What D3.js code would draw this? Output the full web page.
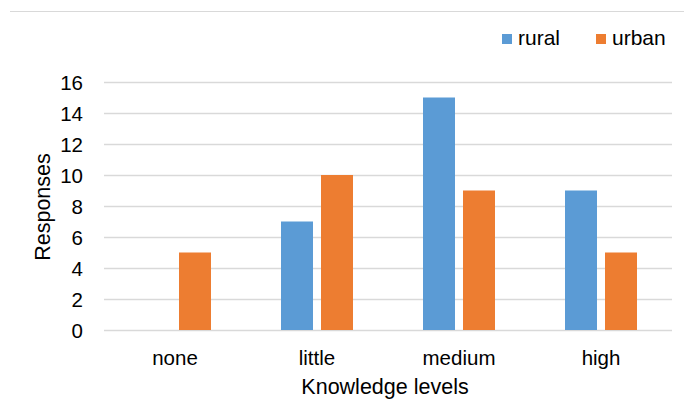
<!DOCTYPE html>
<html>
<head>
<meta charset="utf-8">
<script src="https://cdn.jsdelivr.net/npm/d3@7"></script>
<style>
  html, body { margin: 0; padding: 0; background: #fff; }
  svg { display: block; font-family: "Liberation Sans", Arial, sans-serif; }
</style>
</head>
<body>
<svg id="chart" width="684" height="409"></svg>
<script>
// Knowledge level responses, rural vs urban
const categories = ["none", "little", "medium", "high"];
const seriesNames = ["rural", "urban"];
const rural = [0, 7, 15, 9];
const urban = [5, 10, 9, 5];
const yTicks = [0, 2, 4, 6, 8, 10, 12, 14, 16];
const colors = ["#5B9BD5", "#ED7D31"];

const svg = d3.select("#chart");
const margin = { left: 104, right: 12, top: 82, bottom: 79 };
const W = 684, H = 409;
const FONT = "'Liberation Sans', Arial, sans-serif";

// frame line at top
svg.append("line")
  .attr("x1", 10).attr("x2", W).attr("y1", 11.5).attr("y2", 11.5)
  .attr("stroke", "#d9d9d9").attr("stroke-width", 1);

const x0 = d3.scaleBand().domain(categories)
  .range([margin.left, W - margin.right]).paddingInner(0).paddingOuter(0);
const x1 = d3.scaleBand().domain(seriesNames)
  .range([x0.bandwidth() / 2 - 36, x0.bandwidth() / 2 + 36])
  .paddingInner(0.2).paddingOuter(0);
const y = d3.scaleLinear().domain([0, 16]).range([H - margin.bottom, margin.top]);

// gridlines
svg.append("g")
  .selectAll("line").data(yTicks).join("line")
  .attr("x1", margin.left).attr("x2", W - margin.right)
  .attr("y1", d => Math.round(y(d)) + 0.5).attr("y2", d => Math.round(y(d)) + 0.5)
  .attr("stroke", "#d9d9d9").attr("stroke-width", 1.3);

// y axis labels
const yAxis = d3.axisLeft(y).tickValues(yTicks).tickSize(0).tickPadding(0);
const gy = svg.append("g").attr("transform", `translate(${margin.left - 21},0)`).call(yAxis);
gy.select(".domain").remove();
gy.selectAll("text").attr("font-size", 20.5).attr("fill", "#000")
  .attr("dy", "0.36em").style("font-family", FONT);

// x axis labels
const xAxis = d3.axisBottom(x0).tickSize(0).tickPadding(0);
const gx = svg.append("g").attr("transform", `translate(0,${H - margin.bottom + 20})`).call(xAxis);
gx.select(".domain").remove();
gx.selectAll("text").attr("font-size", 20.5).attr("fill", "#000")
  .style("font-family", FONT);

// bars
const rows = categories.map((c, i) => ({ cat: c, values: [rural[i], urban[i]] }));
svg.append("g").selectAll("g").data(rows).join("g")
  .attr("transform", d => `translate(${x0(d.cat)},0)`)
  .selectAll("rect")
  .data(d => d.values.map((v, j) => ({ name: seriesNames[j], value: v, j })))
  .join("rect")
  .attr("x", d => x1(d.name))
  .attr("width", x1.bandwidth())
  .attr("y", d => y(d.value))
  .attr("height", d => y(0) - y(d.value))
  .attr("fill", d => colors[d.j]);

// axis titles
svg.append("text")
  .attr("x", 385).attr("y", 394)
  .attr("text-anchor", "middle").attr("font-size", 21.5).text("Knowledge levels");
svg.append("text")
  .attr("transform", "translate(50,207) rotate(-90)")
  .attr("text-anchor", "middle").attr("font-size", 21.5).text("Responses");

// legend
const legendX = [502, 596];
const lg = svg.append("g").selectAll("g").data(seriesNames).join("g")
  .attr("transform", (d, i) => `translate(${legendX[i]},34)`);
lg.append("rect").attr("width", 10).attr("height", 10)
  .attr("fill", (d, i) => colors[i]);
lg.append("text").attr("x", 16).attr("y", 11).attr("font-size", 21).text(d => d);
</script>
</body>
</html>
